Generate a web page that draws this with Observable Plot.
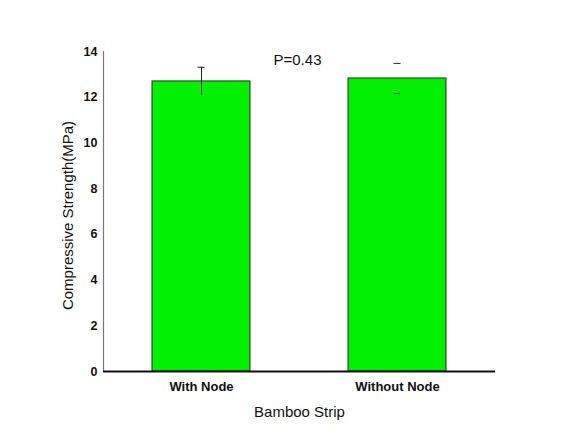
<!DOCTYPE html>
<html>
<head>
<meta charset="utf-8">
<script src="https://cdn.jsdelivr.net/npm/d3@7"></script>
<script src="https://cdn.jsdelivr.net/npm/@observablehq/plot@0.6"></script>
<style>
  html, body { margin: 0; padding: 0; background: #fff; }
</style>
</head>
<body>
<div id="chart"></div>
<script>
const categories = ["With Node", "Without Node"];
const means = [12.69, 12.82];
const sds = [0.62, 0.66];
const drawStem = [true, false];
const drawLowerCap = [false, true];
const yTicks = [0, 2, 4, 6, 8, 10, 12, 14];
const pLabel = "P=0.43";

const data = categories.map((c, i) => ({
  cat: c, mean: means[i], lo: means[i] - sds[i], hi: means[i] + sds[i],
  stem: drawStem[i], lowCap: drawLowerCap[i]
}));

const chart = Plot.plot({
  width: 576,
  height: 445,
  marginLeft: 103,
  marginRight: 81,
  marginTop: 51,
  marginBottom: 74,
  style: { fontFamily: "Liberation Sans, Arial, sans-serif", background: "#fff", overflow: "visible" },
  x: { domain: categories, paddingInner: 0.5, paddingOuter: 0.25, label: null },
  y: { domain: [0, 14], label: null },
  marks: [
    Plot.barY(data, { x: "cat", y: "mean", fill: "#00f000", stroke: "#2a2a2a", strokeWidth: 1 }),
    Plot.ruleX(data.filter(d => d.stem), { x: "cat", y1: "lo", y2: "hi", stroke: "#222", strokeWidth: 1 }),
    Plot.tickY(data, { x: "cat", y: "hi", stroke: "#222", strokeWidth: 1, insetLeft: 45.5, insetRight: 45.5 }),
    Plot.tickY(data.filter(d => d.lowCap), { x: "cat", y: "lo", stroke: "#444", strokeWidth: 1, insetLeft: 46, insetRight: 46 }),
    Plot.axisY({ ticks: yTicks, tickSize: 0, tickPadding: 6, fontSize: 12.5, fontWeight: "bold", fill: "#111", label: null }),
    Plot.axisX({ tickSize: 0, tickPadding: 10, fontSize: 13, fontWeight: "bold", fill: "#111", label: null }),
    Plot.frame({ anchor: "left", stroke: "#777", strokeWidth: 1.2 }),
    Plot.ruleY([0], { stroke: "#111", strokeWidth: 2 }),
    Plot.text([pLabel], { frameAnchor: "top", dx: -2, dy: 3, fontSize: 15, fill: "#111", text: d => d }),
    Plot.text(["Bamboo Strip"], { frameAnchor: "bottom", dy: 45, fontSize: 15, fill: "#111", text: d => d }),
    Plot.text(["Compressive Strength(MPa)"], { frameAnchor: "left", textAnchor: "middle", dx: -35, dy: 4, rotate: -90, fontSize: 15, fill: "#111", text: d => d })
  ]
});
document.getElementById("chart").appendChild(chart);
</script>
</body>
</html>
